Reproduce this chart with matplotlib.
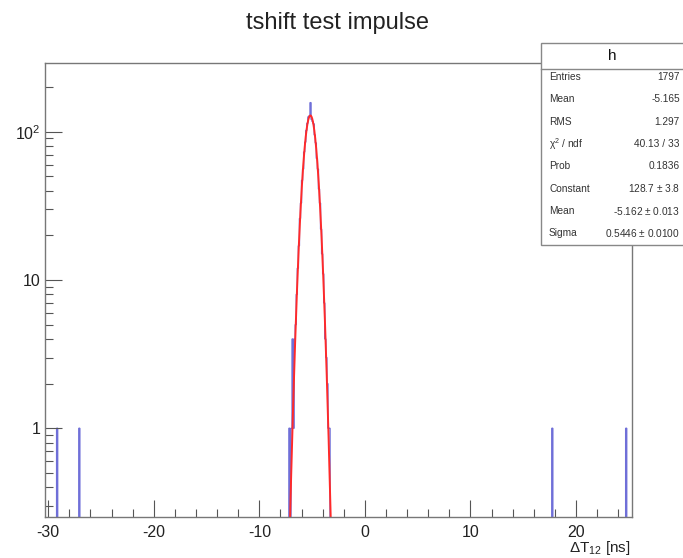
import numpy as np
import matplotlib
matplotlib.use('Agg')
import matplotlib.pyplot as plt
from matplotlib.patches import Rectangle
from matplotlib.lines import Line2D
from matplotlib.ticker import FixedLocator, FixedFormatter, MultipleLocator

plt.rcParams['font.family'] = ['Liberation Sans', 'DejaVu Sans']
plt.rcParams['mathtext.fontset'] = 'custom'
plt.rcParams['mathtext.rm'] = 'Liberation Sans'
plt.rcParams['mathtext.it'] = 'Liberation Sans:italic'
plt.rcParams['mathtext.default'] = 'regular'
plt.rcParams['axes.unicode_minus'] = False

# histogram binning (ns)
x_lo, x_hi, bin_w = -30.3, 25.3, 0.1

# peak bins: first left edge and counts per 0.1 ns bin
peak_start = -7.2
peak_counts = [1, 0, 1, 4, 1, 4, 5, 8, 12, 17,
               26, 33, 47, 56, 73, 85, 102, 114, 126, 128,
               157, 121, 117, 113, 95, 84, 66, 56, 41, 33,
               22, 15, 11, 7, 4, 3, 2, 1, 1]

# isolated single entries
outlier_x = [-29.15, -27.07, 17.7, 24.7]

# gaus fit results
fit_const, fit_mean, fit_sigma = 128.7, -5.162, 0.5446

stats_labels = ['Entries', 'Mean', 'RMS', r'$\chi^2$ / ndf', 'Prob',
                'Constant', 'Mean', 'Sigma']
stats_values = ['1797', '-5.165', '1.297', '40.13 / 33', '0.1836',
                '128.7 $\\pm$ 3.8', '-5.162 $\\pm$ 0.013', '0.5446 $\\pm$ 0.0100']

edges = np.arange(x_lo, x_hi + bin_w / 2, bin_w)
counts = np.zeros(len(edges) - 1)
i0 = int(round((peak_start - x_lo) / bin_w))
counts[i0:i0 + len(peak_counts)] += peak_counts
for x in outlier_x:
    counts[int((x - x_lo) / bin_w)] += 1

W, H = 683, 558
fig = plt.figure(figsize=(W / 100, H / 100), dpi=100)
ax = fig.add_axes([45 / W, 1 - 517 / H, (632 - 45) / W, (517 - 62.7) / H])

draw = np.where(counts > 0, counts, 1e-3)
ax.stairs(draw, edges, color='#6f6fd8', linewidth=1.0, baseline=1e-3)

xf = np.linspace(x_lo, x_hi, 4000)
yf = fit_const * np.exp(-0.5 * ((xf - fit_mean) / fit_sigma) ** 2)
ax.plot(xf, np.where(yf > 1e-3, yf, 1e-3), color='#ff2a2a', linewidth=1.4)

ax.set_yscale('log')
ax.set_xlim(x_lo, x_hi)
ax.set_ylim(0.252, 292)

ax.xaxis.set_major_locator(MultipleLocator(10))
ax.xaxis.set_minor_locator(MultipleLocator(2))
ax.yaxis.set_major_locator(FixedLocator([1, 10, 100]))
ax.yaxis.set_major_formatter(FixedFormatter(['1', '10', '$10^2$']))
minor_y = [m * 10.0 ** e for e in (-1, 0, 1, 2) for m in range(2, 10)]
ax.yaxis.set_minor_locator(FixedLocator(minor_y))
ax.yaxis.set_minor_formatter(FixedFormatter([''] * len(minor_y)))

ax.tick_params(which='both', direction='in', colors='#555555', labelcolor='#222222')
ax.tick_params(which='major', length=12, width=0.8, labelsize=11.5)
ax.tick_params(which='minor', length=6, width=0.8)
ax.tick_params(axis='x', pad=6)
ax.tick_params(axis='y', pad=3)
for s in ax.spines.values():
    s.set_color('#777777')
    s.set_linewidth(1.0)

fig.text(338 / W, 1 - 23 / H, 'tshift test impulse', ha='center', va='center',
         fontsize=17, color='#222222')
fig.text(631 / W, 1 - 552 / H, r'$\Delta$T$_{12}$ [ns]', ha='right', va='baseline',
         fontsize=11, color='#222222')

# stats box
bx0, bx1, by0, by1 = 541, 690, 43, 245
fig.patches.append(Rectangle((bx0 / W, 1 - by1 / H), (bx1 - bx0) / W, (by1 - by0) / H,
                             transform=fig.transFigure, facecolor='white',
                             edgecolor='#888888', linewidth=1.0, zorder=5))
fig.lines.append(Line2D([bx0 / W, 1], [1 - 69 / H] * 2, transform=fig.transFigure,
                        color='#888888', linewidth=1.0, zorder=6))
fig.text(612 / W, 1 - 56 / H, 'h', ha='center', va='center', fontsize=11,
         color='#111111', zorder=7)
for k, (lab, val) in enumerate(zip(stats_labels, stats_values)):
    y = 1 - (77 + 22.3 * k) / H
    fig.text(549 / W, y, lab, ha='left', va='center', fontsize=7.3, color='#333333', zorder=7)
    fig.text(680 / W, y, val, ha='right', va='center', fontsize=7.3, color='#333333', zorder=7)

fig.savefig('out.png', dpi=100)
